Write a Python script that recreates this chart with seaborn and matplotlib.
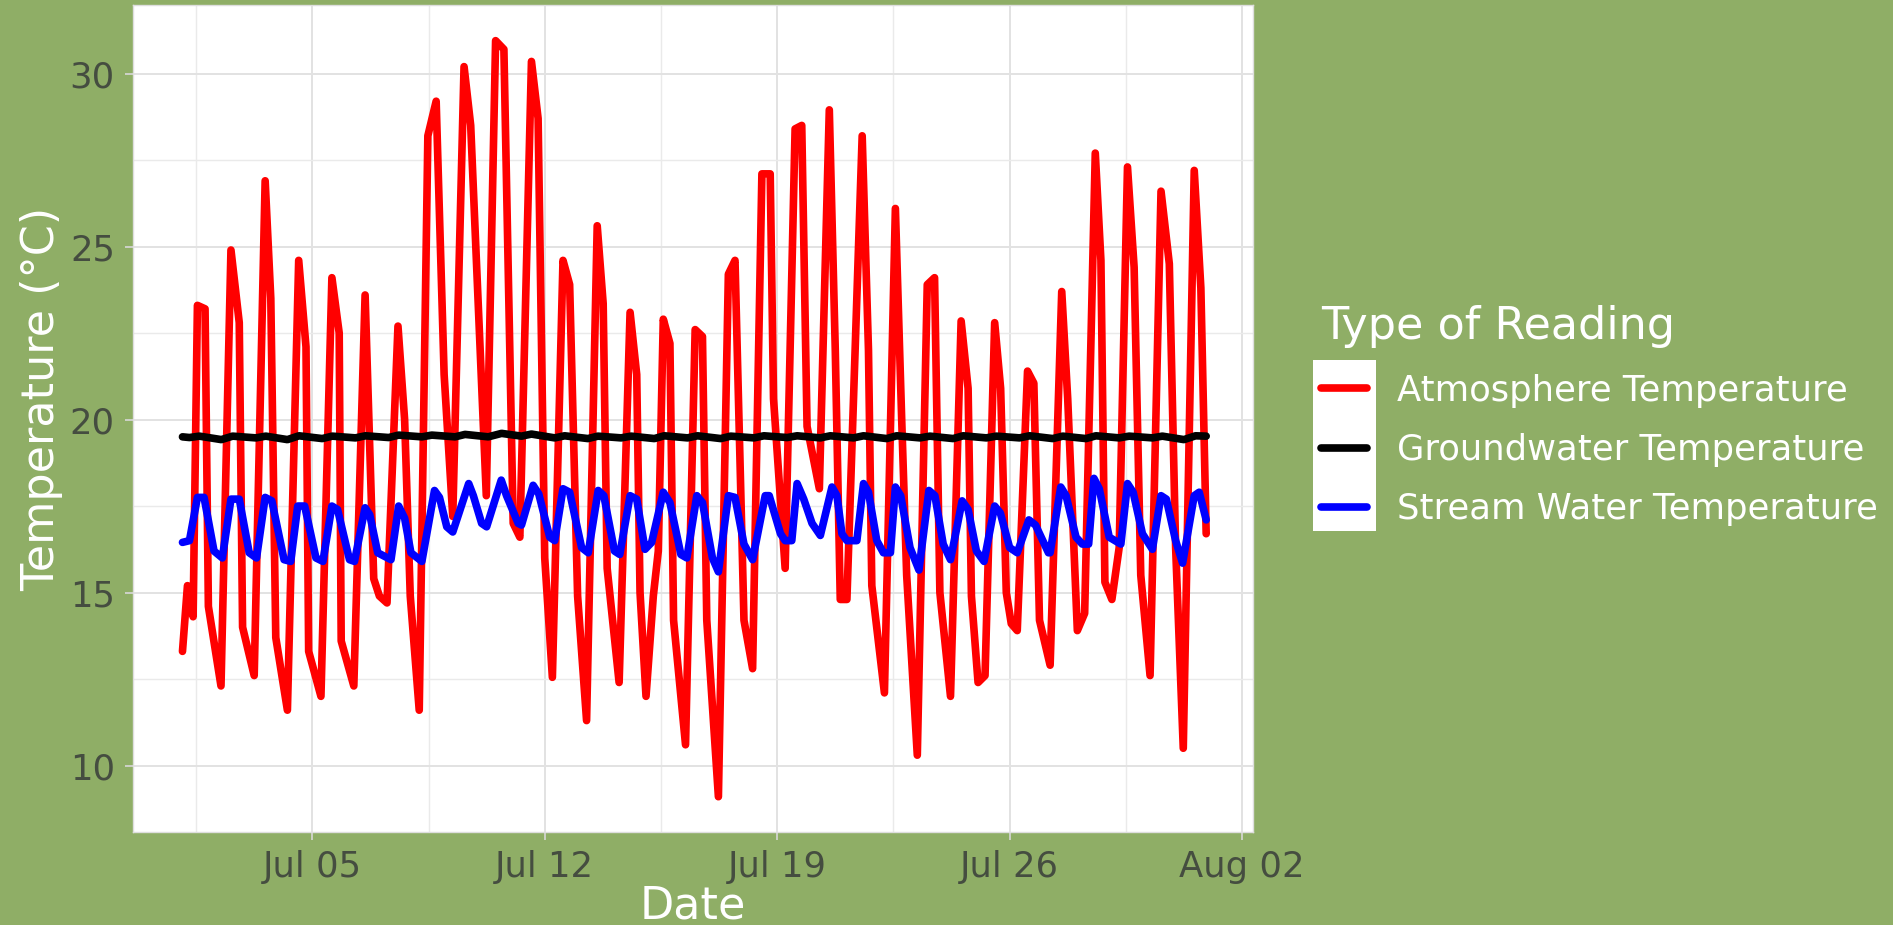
import numpy as np
import pandas as pd
import seaborn as sns
import matplotlib.pyplot as plt
import matplotlib.dates as mdates
from matplotlib.lines import Line2D
from matplotlib.patches import Rectangle

# day of July (fractional) and reading, one pair of lists per series
atm_day = [1.09, 1.24, 1.41, 1.54, 1.77, 1.87,
           2.25, 2.55, 2.80, 2.90,
           3.25, 3.58, 3.75, 3.90,
           4.25, 4.59, 4.81, 4.89,
           5.26, 5.59, 5.81, 5.87,
           6.25, 6.59, 6.85, 7.02, 7.25,
           7.58, 7.78, 7.95, 8.22,
           8.48, 8.73, 8.97, 9.23,
           9.57, 9.77, 9.99, 10.24,
           10.52, 10.77, 11.05, 11.25,
           11.60, 11.80, 12.00, 12.23,
           12.55, 12.75, 12.99, 13.26,
           13.58, 13.76, 13.88, 14.24,
           14.57, 14.77, 14.87, 15.05, 15.27, 15.42,
           15.57, 15.77, 15.88, 16.24,
           16.53, 16.75, 16.88, 17.23,
           17.53, 17.73, 18.00, 18.26,
           18.54, 18.79, 18.89, 19.24,
           19.54, 19.74, 19.90, 20.27,
           20.57, 20.75, 20.90, 21.10,
           21.56, 21.75, 21.85, 22.23,
           22.56, 22.75, 22.90, 23.22,
           23.52, 23.74, 23.90, 24.22,
           24.54, 24.75, 24.85, 25.05, 25.26,
           25.55, 25.73, 25.90, 26.05, 26.23,
           26.54, 26.73, 26.90, 27.22,
           27.57, 27.75, 28.04, 28.26,
           28.58, 28.75, 28.87, 29.08, 29.30,
           29.55, 29.75, 29.95, 30.23,
           30.56, 30.81, 31.00, 31.23,
           31.56, 31.76, 31.92]
atm_temp = [13.3, 15.2, 14.3, 23.3, 23.2, 14.6,
            12.3, 24.9, 22.8, 14.0,
            12.6, 26.9, 23.5, 13.7,
            11.6, 24.6, 22.1, 13.3,
            12.0, 24.1, 22.5, 13.6,
            12.3, 23.6, 15.4, 14.9, 14.7,
            22.7, 20.0, 14.9, 11.6,
            28.2, 29.2, 21.3, 17.2,
            30.2, 28.5, 23.5, 17.8,
            30.95, 30.7, 17.0, 16.6,
            30.35, 28.7, 16.0, 12.55,
            24.6, 23.9, 14.9, 11.3,
            25.6, 23.35, 15.7, 12.4,
            23.1, 21.3, 15.0, 12.0, 14.9, 16.2,
            22.9, 22.2, 14.2, 10.6,
            22.6, 22.4, 14.2, 9.1,
            24.2, 24.6, 14.2, 12.8,
            27.1, 27.1, 20.6, 15.7,
            28.4, 28.5, 19.8, 18.0,
            28.95, 22.0, 14.8, 14.8,
            28.2, 22.0, 15.2, 12.1,
            26.1, 20.0, 15.5, 10.3,
            23.9, 24.1, 15.0, 12.0,
            22.85, 20.9, 14.9, 12.4, 12.6,
            22.8, 20.9, 15.0, 14.1, 13.9,
            21.4, 21.05, 14.2, 12.9,
            23.7, 20.6, 13.9, 14.4,
            27.7, 24.6, 15.3, 14.8, 16.3,
            27.3, 24.4, 15.5, 12.6,
            26.6, 24.5, 16.3, 10.5,
            27.2, 23.8, 16.7]

grd_day = [1.09, 1.30, 1.60, 2.26, 2.60, 3.30, 3.60, 4.25, 4.60, 5.30, 5.60,
           6.30, 6.60, 7.30, 7.60, 8.30, 8.60, 9.30, 9.60, 10.30, 10.70,
           11.30, 11.60, 12.30, 12.60, 13.30, 13.60, 14.30, 14.60, 15.30, 15.60,
           16.30, 16.60, 17.30, 17.60, 18.30, 18.60, 19.30, 19.60, 20.30, 20.60,
           21.30, 21.60, 22.30, 22.60, 23.30, 23.60, 24.30, 24.60, 25.30, 25.60,
           26.30, 26.60, 27.30, 27.60, 28.30, 28.60, 29.30, 29.60, 30.30, 30.60,
           31.25, 31.60, 31.92]
grd_temp = [19.50, 19.48, 19.52, 19.42, 19.52, 19.47, 19.52, 19.42, 19.53, 19.45, 19.52,
            19.47, 19.53, 19.48, 19.55, 19.50, 19.55, 19.50, 19.57, 19.50, 19.60,
            19.52, 19.58, 19.47, 19.53, 19.45, 19.52, 19.47, 19.52, 19.45, 19.53,
            19.47, 19.53, 19.45, 19.52, 19.47, 19.53, 19.48, 19.53, 19.47, 19.53,
            19.47, 19.53, 19.45, 19.53, 19.47, 19.52, 19.45, 19.53, 19.47, 19.52,
            19.47, 19.53, 19.45, 19.52, 19.45, 19.53, 19.47, 19.52, 19.47, 19.52,
            19.42, 19.53, 19.52]

str_day = [1.09, 1.30, 1.54, 1.74, 2.04, 2.29,
           2.55, 2.80, 3.10, 3.32,
           3.58, 3.78, 4.15, 4.35,
           4.56, 4.77, 5.11, 5.32,
           5.59, 5.76, 6.12, 6.27,
           6.59, 6.73, 6.97, 7.37,
           7.60, 7.78, 7.97, 8.30,
           8.68, 8.83, 9.05, 9.23,
           9.71, 9.85, 10.10, 10.25,
           10.69, 10.85, 11.20, 11.30,
           11.65, 11.82, 12.15, 12.30,
           12.55, 12.75, 13.11, 13.31,
           13.61, 13.78, 14.10, 14.26,
           14.57, 14.77, 15.02, 15.22,
           15.57, 15.77, 16.10, 16.28,
           16.58, 16.75, 17.05, 17.23,
           17.53, 17.73, 18.00, 18.26,
           18.64, 18.76, 19.10, 19.24, 19.44,
           19.60, 19.80, 20.05, 20.30,
           20.65, 20.80, 20.95, 21.10, 21.40,
           21.60, 21.75, 22.00, 22.20, 22.41,
           22.56, 22.72, 23.00, 23.27,
           23.57, 23.75, 24.00, 24.22,
           24.57, 24.75, 25.00, 25.23,
           25.55, 25.72, 26.00, 26.23,
           26.58, 26.78, 27.17, 27.22,
           27.54, 27.70, 28.00, 28.19, 28.38,
           28.54, 28.70, 29.00, 29.35,
           29.55, 29.72, 30.00, 30.30,
           30.56, 30.72, 31.00, 31.21,
           31.56, 31.71, 31.92]
str_temp = [16.45, 16.5, 17.75, 17.75, 16.2, 16.0,
            17.7, 17.7, 16.15, 16.0,
            17.75, 17.65, 15.95, 15.9,
            17.5, 17.5, 16.0, 15.9,
            17.5, 17.4, 15.95, 15.9,
            17.45, 17.25, 16.15, 15.95,
            17.5, 17.15, 16.15, 15.9,
            17.95, 17.75, 16.9, 16.75,
            18.15, 17.8, 17.0, 16.9,
            18.25, 17.8, 17.0, 16.95,
            18.1, 17.85, 16.6, 16.5,
            18.0, 17.9, 16.3, 16.15,
            17.95, 17.8, 16.2, 16.1,
            17.8, 17.7, 16.25, 16.45,
            17.9, 17.6, 16.1, 16.0,
            17.8, 17.6, 16.0, 15.6,
            17.8, 17.75, 16.4, 15.95,
            17.8, 17.8, 16.7, 16.5, 16.5,
            18.15, 17.7, 17.0, 16.65,
            18.05, 17.8, 16.7, 16.5, 16.5,
            18.15, 17.9, 16.5, 16.15, 16.15,
            18.05, 17.8, 16.3, 15.65,
            17.95, 17.8, 16.4, 15.95,
            17.65, 17.4, 16.2, 15.9,
            17.5, 17.3, 16.3, 16.15,
            17.1, 16.95, 16.15, 16.15,
            18.05, 17.8, 16.6, 16.4, 16.4,
            18.3, 18.0, 16.6, 16.4,
            18.15, 17.9, 16.7, 16.25,
            17.8, 17.7, 16.5, 15.85,
            17.8, 17.9, 17.1]

readings = ["Atmosphere Temperature", "Groundwater Temperature", "Stream Water Temperature"]
colores = {"Atmosphere Temperature": "#ff0000",
           "Groundwater Temperature": "#000000",
           "Stream Water Temperature": "#0000ff"}

verde = "#8fae66"
texto_eje = "#454d40"


def a_fecha(dias):
    base = pd.Timestamp("2022-07-01")
    return base + pd.to_timedelta(np.array(dias) - 1, unit="D")


def main():
    partes = []
    for nombre, dias, temps in zip(readings,
                                   [atm_day, grd_day, str_day],
                                   [atm_temp, grd_temp, str_temp]):
        partes.append(pd.DataFrame({"fecha": a_fecha(dias), "temp": temps, "tipo": nombre}))
    df = pd.concat(partes, ignore_index=True)

    sns.set_style("whitegrid")
    plt.rcParams["font.family"] = ["DejaVu Sans"]

    fig = plt.figure(figsize=(18.93, 9.25), dpi=100, facecolor=verde)
    ax = fig.add_axes([133 / 1893, 1 - 832 / 925, 1120 / 1893, 827 / 925])
    ax.set_facecolor("white")

    sns.lineplot(data=df, x="fecha", y="temp", hue="tipo", hue_order=readings,
                 palette=colores, estimator=None, sort=False, linewidth=5.5,
                 legend=False, ax=ax)
    for ln in ax.lines:
        ln.set_solid_joinstyle("round")

    ax.set_xlim(a_fecha([-0.40])[0], a_fecha([33.33])[0])
    ax.set_ylim(8.08, 31.98)
    ax.set_yticks([10, 15, 20, 25, 30])
    ax.set_yticks([12.5, 17.5, 22.5, 27.5], minor=True)
    ax.set_xticks(a_fecha([5, 12, 19, 26, 33]))
    ax.set_xticks(a_fecha([1.5, 8.5, 15.5, 22.5, 29.5]), minor=True)
    ax.xaxis.set_major_formatter(mdates.DateFormatter("%b %d"))

    ax.grid(True, which="major", color="#e2e2e2", linewidth=1.4)
    ax.grid(True, which="minor", color="#eaeaea", linewidth=1.0)
    ax.set_axisbelow(True)
    for s in ax.spines.values():
        s.set_visible(True)
        s.set_color("#dedede")
        s.set_linewidth(1.0)

    ax.tick_params(axis="both", which="major", labelsize=25.5, labelcolor=texto_eje,
                   color="#d8d8d8", length=6, width=1.2, pad=7, left=True, bottom=True)
    ax.tick_params(axis="both", which="minor", length=0)

    ax.set_xlabel("Date", fontsize=32, color="white", labelpad=0)
    ax.set_ylabel("Temperature (°C)", fontsize=32, color="white", labelpad=5)
    ax.yaxis.label.set_y(0.524)

    handles = [Line2D([0], [0], color=colores[r], linewidth=5.5) for r in readings]
    fig.patches.append(Rectangle((1313 / 1893, 1 - 531 / 925), 63 / 1893, 171 / 925,
                                 transform=fig.transFigure, facecolor="white",
                                 edgecolor="none", zorder=0))
    leg = fig.legend(handles, readings, title="Type of Reading", loc="upper left",
                     bbox_to_anchor=(1321 / 1893, 1 - 305 / 925), frameon=False,
                     fontsize=25.5, title_fontsize=32, handlelength=1.3,
                     handletextpad=0.85, labelspacing=0.72, borderpad=0,
                     borderaxespad=0, alignment="left")
    leg.get_title().set_color("white")
    for t in leg.get_texts():
        t.set_color("white")

    fig.savefig("out.png", dpi=100, facecolor=verde)


if __name__ == "__main__":
    main()
